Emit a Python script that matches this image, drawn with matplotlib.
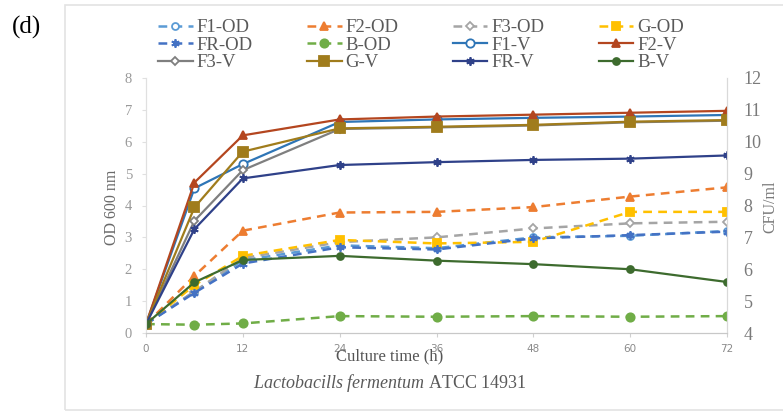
import numpy as np
import matplotlib
matplotlib.use("Agg")
import matplotlib.pyplot as plt
from matplotlib.patches import Rectangle

plt.rcParams['font.family'] = ['Liberation Serif', 'DejaVu Serif']
plt.rcParams['mathtext.fontset'] = 'custom'
plt.rcParams['mathtext.it'] = 'Liberation Serif:italic'
plt.rcParams['mathtext.rm'] = 'Liberation Serif'

# culture time (h)
hours = [0, 6, 12, 24, 36, 48, 60, 72]

# OD 600 nm (left axis)
f1_od = [0.28, 1.30, 2.28, 2.75, 2.66, 3.00, 3.05, 3.20]
f2_od = [0.28, 1.79, 3.21, 3.78, 3.80, 3.95, 4.28, 4.57]
f3_od = [0.28, 1.30, 2.35, 2.85, 3.00, 3.28, 3.44, 3.49]
g_od = [0.28, 1.50, 2.42, 2.92, 2.81, 2.86, 3.80, 3.80]
fr_od = [0.28, 1.26, 2.18, 2.69, 2.62, 2.97, 3.07, 3.18]
b_od = [0.28, 0.26, 0.30, 0.53, 0.51, 0.53, 0.51, 0.53]

# viable count, CFU/ml (right axis)
f1_v = [4.28, 8.54, 9.30, 10.62, 10.70, 10.75, 10.79, 10.84]
f2_v = [4.28, 8.72, 10.20, 10.70, 10.79, 10.85, 10.91, 10.97]
f3_v = [4.28, 7.52, 9.11, 10.40, 10.45, 10.51, 10.61, 10.66]
g_v = [4.28, 7.94, 9.69, 10.42, 10.47, 10.53, 10.63, 10.68]
fr_v = [4.28, 7.26, 8.85, 9.27, 9.36, 9.43, 9.47, 9.57]
b_v = [4.28, 5.59, 6.29, 6.42, 6.27, 6.16, 6.00, 5.60]

W, H = 783, 412
fig = plt.figure(figsize=(W / 100, H / 100), dpi=100)
fig.patches.append(Rectangle((65 / W, 1 - 410 / H), 730 / W, 405 / H,
                             transform=fig.transFigure, fill=False,
                             edgecolor='#e3e3e3', lw=1.2))

ax = fig.add_axes([146 / W, 1 - 333 / H, 581 / W, 255 / H])
ax2 = ax.twinx()

dash = (0, (3.5, 2.5))
od_series = [
    ("F1-OD", f1_od, '#5b9bd5', 'o', 'white', 5),
    ("F2-OD", f2_od, '#ed7d31', '^', '#ed7d31', 6),
    ("F3-OD", f3_od, '#a5a5a5', 'D', 'white', 4.5),
    ("G-OD", g_od, '#ffc000', 's', '#ffc000', 6),
    ("FR-OD", fr_od, '#4472c4', (6, 2, 0), '#4472c4', 6),
    ("B-OD", b_od, '#70ad47', 'o', '#70ad47', 6),
]
v_series = [
    ("F1-V", f1_v, '#2e75b6', 'o', 'white', 6),
    ("F2-V", f2_v, '#b4461f', '^', '#b4461f', 6),
    ("F3-V", f3_v, '#7f7f7f', 'D', 'white', 4.5),
    ("G-V", g_v, '#a07c1c', 's', '#a07c1c', 7.5),
    ("FR-V", fr_v, '#2f4189', (6, 2, 0), '#2f4189', 6),
    ("B-V", b_v, '#3d6b2e', 'o', '#3d6b2e', 5),
]

handles = []
for name, vals, c, m, fc, ms in od_series:
    h, = ax.plot(hours, vals, linestyle=dash, color=c, lw=1.8, marker=m,
                 markerfacecolor=fc, markeredgecolor=c, markersize=ms,
                 markeredgewidth=1.3, label=name)
    handles.append(h)
for name, vals, c, m, fc, ms in v_series:
    h, = ax2.plot(hours, vals, linestyle='-', color=c, lw=1.6, marker=m,
                  markerfacecolor=fc, markeredgecolor=c, markersize=ms,
                  markeredgewidth=1.3, label=name)
    handles.append(h)

ax.set_xlim(0, 72)
ax.set_ylim(0, 8)
ax2.set_ylim(4, 12)
ax.set_xticks(range(0, 73, 12))
ax.set_yticks(range(0, 9))
ax2.set_yticks(range(4, 13))
ax.set_xticklabels([str(t) for t in range(0, 73, 12)], family='DejaVu Sans',
                   fontsize=7.5, color='#8a8a8a')
ax.tick_params(axis='x', length=3, color='#d0d0d0', pad=5)
ax.tick_params(axis='y', length=3, color='#e0e0e0', labelsize=10.5,
               labelcolor='#9a9a9a', pad=7)
ax2.tick_params(axis='y', length=0, labelsize=13, labelcolor='#7a7a7a', pad=12)

for a in (ax, ax2):
    a.spines['top'].set_visible(False)
    a.spines['left'].set_color('#e0e0e0')
    a.spines['right'].set_color('#d9d9d9')
    a.spines['bottom'].set_color('#c8c8c8')
    a.patch.set_visible(False)

fig.text(112 / W, 1 - 207 / H, "OD 600 nm", rotation=90, ha='center',
         va='center', fontsize=11.5, color='#6a6a6a')
fig.text(770 / W, 1 - 207 / H, "CFU/ml", rotation=90, ha='center',
         va='center', fontsize=11.5, color='#7a7a7a')
fig.text(390 / W, 1 - 356 / H, "Culture time (h)", ha='center', va='center',
         fontsize=12, color='#555555')
fig.text(390 / W, 1 - 383 / H, r"$\mathit{Lactobacills\ fermentum}$ ATCC 14931",
         ha='center', va='center', fontsize=13, color='#5a5a5a')
fig.text(12 / W, 1 - 27 / H, "(d)", ha='left', va='center', fontsize=18,
         color='black')

# legend laid out row by row, 4 per row
order = [0, 4, 8, 1, 5, 9, 2, 6, 10, 3, 7, 11]
leg = fig.legend([handles[i] for i in order], [handles[i].get_label() for i in order],
                 ncol=4, loc='upper left', bbox_to_anchor=(158 / W, 1 - 19 / H),
                 frameon=False, fontsize=13.5, handlelength=1.85, handletextpad=0.2,
                 columnspacing=2.9, labelspacing=0.02, borderpad=0, borderaxespad=0)
for t in leg.get_texts():
    t.set_color('#595959')

fig.savefig("out.png", dpi=100)
